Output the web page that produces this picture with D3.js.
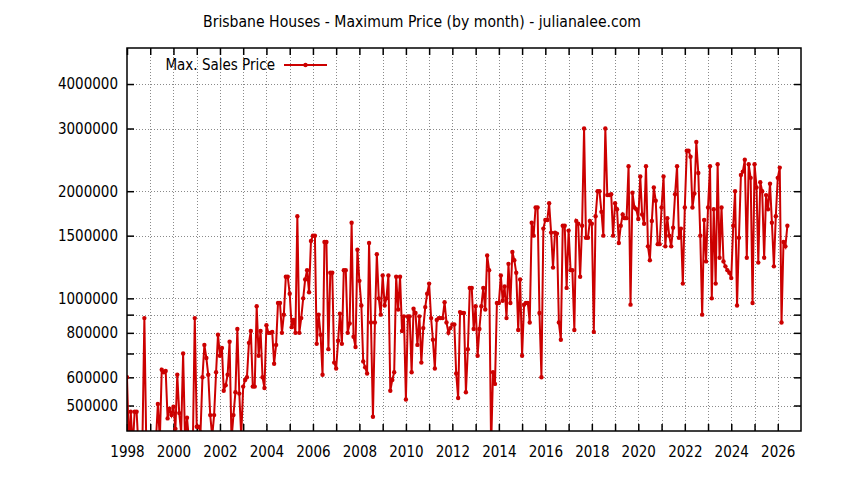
<!DOCTYPE html>
<html><head><meta charset="utf-8">
<script src="https://cdn.jsdelivr.net/npm/d3@7"></script>
<style>
body{margin:0;background:#fff}
text{font-family:"DejaVu Sans Condensed","DejaVu Sans",sans-serif;font-stretch:condensed;fill:#000}
</style>
</head><body>
<svg id="chart" width="844" height="480"></svg>
<script>
// ---- data (maximum monthly sale price, in thousands of dollars) ----
const startYear = 1998;          // first month = January 1998
const endYear = 2027;            // axis end
const yTickValues = [500000, 600000, 700000, 800000, 900000, 1000000, 1500000, 2000000, 3000000, 4000000];
const yTickLabels = ["500000", "600000", "", "800000", "", "1000000", "1500000", "2000000", "3000000", "4000000"];
const xTickYears = [1998,1999,2000,2001,2002,2003,2004,2005,2006,2007,2008,2009,2010,2011,2012,2013,2014,2015,2016,2017,2018,2019,2020,2021,2022,2023,2024,2025,2026];
const seriesName = "Max. Sales Price";
const maxPriceK = [
  600, 380, 480, 380, 480, 480, 380, 380, 400, 880, 380, 360,      // 1998
  380, 400, 380, 400, 505, 400, 630, 620, 625, 460, 490, 470,      // 1999
  496, 430, 610, 476, 420, 700, 400, 462, 400, 380, 390, 880,      // 2000
  436, 436, 420, 600, 740, 680, 610, 470, 410, 470, 620, 790,      // 2001
  690, 725, 550, 570, 610, 755, 400, 470, 545, 820, 540, 410,      // 2002
  565, 590, 600, 750, 810, 565, 565, 950, 690, 810, 600, 560,      // 2003
  840, 800, 800, 805, 655, 740, 970, 970, 800, 900, 1150, 1150,    // 2004
  1030, 830, 870, 800, 1700, 800, 880, 1000, 1130, 1200, 1040, 1450, // 2005
  1500, 1500, 745, 900, 790, 610, 1440, 1440, 720, 1180, 1180, 660, // 2006
  635, 760, 905, 745, 1200, 1200, 800, 850, 1630, 780, 730, 1370,  // 2007
  1120, 955, 665, 640, 615, 1430, 855, 465, 855, 1330, 1000, 900,  // 2008
  1160, 955, 1000, 1160, 550, 590, 620, 1150, 930, 1150, 810, 890, // 2009
  520, 890, 890, 620, 935, 910, 740, 890, 660, 825, 945, 1030,     // 2010
  1100, 880, 765, 635, 870, 880, 880, 880, 975, 855, 800, 825,     // 2011
  845, 845, 615, 525, 915, 910, 910, 545, 720, 1070, 1070, 820,    // 2012
  950, 690, 820, 950, 1070, 930, 1320, 1200, 380, 620, 575, 970,   // 2013
  970, 1160, 985, 1080, 880, 1250, 970, 1350, 1280, 1180, 815, 1130, // 2014
  690, 960, 970, 970, 855, 1630, 1500, 1800, 1800, 910, 600, 1570, // 2015
  1660, 1660, 1850, 1530, 1220, 1530, 1520, 855, 765, 1600, 1600, 1070, // 2016
  1550, 1200, 1200, 815, 1650, 1620, 1150, 1600, 3000, 1480, 1480, 1650, // 2017
  1620, 805, 1700, 2000, 2000, 1750, 1500, 3000, 1950, 1950, 1960, 1500, // 2018
  1850, 1780, 1430, 1600, 1720, 1680, 1680, 2350, 960, 1980, 1800, 1780, // 2019
  1670, 2200, 1720, 1620, 2350, 1400, 1280, 1650, 2050, 1880, 1420, 1420, // 2020
  1800, 2200, 1400, 1680, 1500, 1400, 1580, 1960, 2350, 1480, 1570, 1100, // 2021
  1800, 2600, 2600, 2500, 1800, 1970, 2750, 2250, 1500, 900, 1660, 1270,  // 2022
  1800, 2350, 1000, 1780, 1100, 2380, 1300, 1800, 1270, 1230, 1200, 1180, // 2023
  1140, 1600, 2000, 955, 1480, 2220, 2270, 2450, 1300, 2380, 2180, 970,   // 2024
  2380, 2050, 1260, 2120, 2000, 1300, 1950, 1780, 2100, 1630, 1230, 1700, // 2025
  2180, 2330, 855, 1440, 1400, 1600                                       // 2026
];

// ---- layout ----
const plotL = 127, plotR = 801, plotT = 48, plotB = 431;
const red = "#cc0000";
const fontPx = "15px";

const data = maxPriceK.map((v, i) => ({
  date: new Date(startYear + Math.floor(i / 12), i % 12, 1),
  value: v * 1000
}));

const x = d3.scaleTime()
  .domain([new Date(startYear, 0, 1), new Date(endYear, 0, 1)])
  .range([plotL, plotR]);
const y = d3.scaleLog()
  .domain([424000, 5050000])
  .range([plotB, plotT]);

const svg = d3.select("#chart");

svg.append("text")
  .attr("x", 422).attr("y", 27)
  .attr("text-anchor", "middle")
  .style("font-size", "15.6px")
  .text("Brisbane Houses - Maximum Price (by month) - julianalee.com");

// grid
const grid = svg.append("g").attr("stroke", "#8a8a8a").attr("stroke-width", 1)
  .attr("stroke-dasharray", "1,2").attr("shape-rendering", "crispEdges");
grid.selectAll("line.h").data(yTickValues).join("line")
  .attr("class", "h")
  .attr("x1", plotL).attr("x2", plotR)
  .attr("y1", d => Math.round(y(d)) + 0.5).attr("y2", d => Math.round(y(d)) + 0.5);
grid.selectAll("line.v").data(xTickYears.filter(yr => yr !== startYear)).join("line")
  .attr("class", "v")
  .attr("y1", plotT).attr("y2", plotB)
  .attr("x1", d => Math.round(x(new Date(d, 0, 1))) + 0.5)
  .attr("x2", d => Math.round(x(new Date(d, 0, 1))) + 0.5);

// axes
const yearDates = xTickYears.map(yr => new Date(yr, 0, 1));
const fmtYear = d => (d.getFullYear() % 2 === 0 ? String(d.getFullYear()) : "");

function styleAxis(g) {
  g.attr("font-family", null);
  g.select(".domain").remove();
  g.selectAll(".tick line").attr("stroke", "#000").attr("stroke-width", 1.5);
  g.selectAll(".tick text").style("font-size", fontPx).attr("fill", "#000");
}

svg.append("g").attr("transform", `translate(0,${plotB})`)
  .call(d3.axisBottom(x).tickValues(yearDates).tickSize(-7).tickSizeOuter(0).tickPadding(15).tickFormat(fmtYear))
  .call(styleAxis);
svg.append("g").attr("transform", `translate(0,${plotT})`)
  .call(d3.axisTop(x).tickValues(yearDates).tickSize(-7).tickSizeOuter(0).tickFormat(() => ""))
  .call(styleAxis);
svg.append("g").attr("transform", `translate(${plotL},0)`)
  .call(d3.axisLeft(y).tickValues(yTickValues).tickSize(-7).tickSizeOuter(0).tickPadding(9)
    .tickFormat((d, i) => yTickLabels[i]))
  .call(styleAxis);
svg.append("g").attr("transform", `translate(${plotR},0)`)
  .call(d3.axisRight(y).tickValues(yTickValues).tickSize(-7).tickSizeOuter(0).tickFormat(() => ""))
  .call(styleAxis);

// clip
svg.append("clipPath").attr("id", "plotclip")
  .append("rect").attr("x", plotL).attr("y", plotT).attr("width", plotR - plotL).attr("height", plotB - plotT);

const plot = svg.append("g").attr("clip-path", "url(#plotclip)");
const line = d3.line().x(d => x(d.date)).y(d => y(d.value));
plot.append("path").datum(data)
  .attr("fill", "none").attr("stroke", red).attr("stroke-width", 2)
  .attr("stroke-linejoin", "miter").attr("d", line);
plot.selectAll("circle").data(data).join("circle")
  .attr("cx", d => x(d.date)).attr("cy", d => y(d.value)).attr("r", 2.2)
  .attr("fill", red);

// frame
svg.append("rect").attr("x", plotL).attr("y", plotT)
  .attr("width", plotR - plotL).attr("height", plotB - plotT)
  .attr("fill", "none").attr("stroke", "#000").attr("stroke-width", 1.5);

// legend
const lg = svg.append("g");
lg.append("text").attr("x", 275).attr("y", 65).attr("dy", "0.35em")
  .attr("text-anchor", "end").style("font-size", fontPx).text(seriesName);
lg.append("line").attr("x1", 284).attr("x2", 327).attr("y1", 65).attr("y2", 65)
  .attr("stroke", red).attr("stroke-width", 2);
lg.append("circle").attr("cx", 305.5).attr("cy", 65).attr("r", 2.2).attr("fill", red);
</script>
</body></html>
